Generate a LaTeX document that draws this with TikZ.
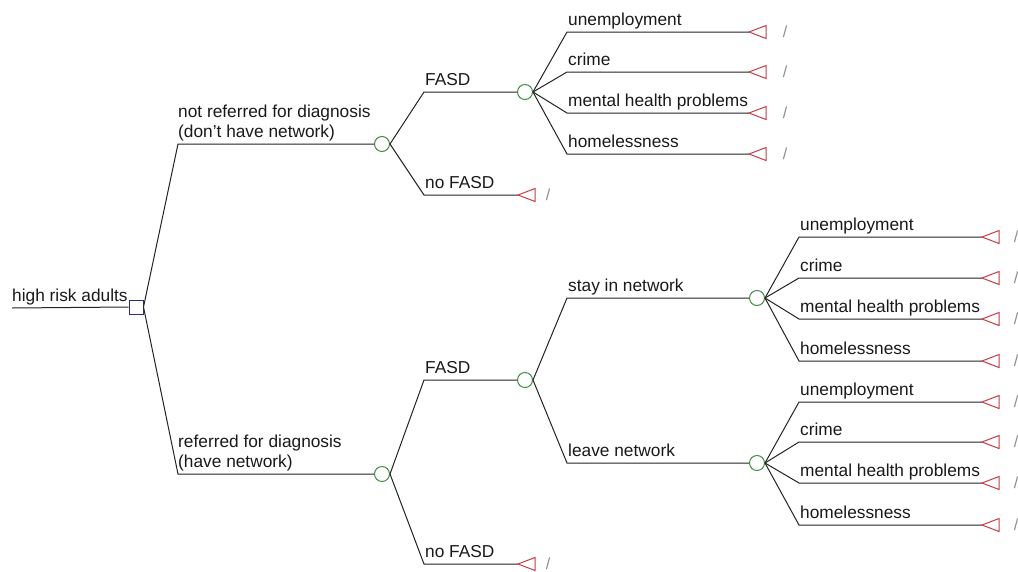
\documentclass[tikz,border=0pt]{standalone}
\usepackage{fontspec}
\setmainfont{Liberation Sans}
\definecolor{linec}{RGB}{35,35,35}
\definecolor{textc}{RGB}{25,25,25}
\definecolor{chancec}{RGB}{70,140,70}
\definecolor{decc}{RGB}{45,45,135}
\definecolor{termc}{RGB}{200,60,70}
\definecolor{slashc}{RGB}{140,140,140}
\begin{document}
\begin{tikzpicture}[x=1pt,y=-1pt,
  edge/.style={draw=linec, line width=1pt},
  chance/.style={circle, draw=chancec, line width=1pt, minimum size=15pt, inner sep=0pt, fill=white},
  decision/.style={rectangle, draw=decc, line width=1pt, minimum size=14pt, inner sep=0pt, fill=white},
  lbl/.style={anchor=base west, inner sep=0pt, font=\fontsize{17.3}{20}\selectfont, text=textc},
  lbltwo/.style={anchor=south west, inner sep=0pt, align=left, font=\fontsize{17.3}{20}\selectfont, text=textc},
  term/.style={draw=termc, line width=1pt, line join=miter},
  slashmark/.style={inner sep=0pt, text=slashc, font=\fontsize{16}{18}\selectfont}]
\useasboundingbox (0,0) rectangle (1018,571);

% root
\coordinate (r0) at (12,308);
\node[decision] (sq) at (136,307) {};
\draw[edge] (r0) -- (sq.west);
\node[lbl] (lroot) at (12,301) {high risk adults};

% level 1
\coordinate (k1) at (178,144);
\coordinate (k2) at (178,474);
\node[chance] (c1) at (382,144) {};
\node[chance] (c2) at (382,474) {};
\draw[edge] (sq.east) -- (k1) -- (c1.west);
\draw[edge] (sq.east) -- (k2) -- (c2.west);
\node[lbltwo] (l1) at (178,141) {not referred for diagnosis\\(don't have network)};
\node[lbltwo] (l2) at (178,471) {referred for diagnosis\\(have network)};

% level 2 upper
\coordinate (k3) at (424,92);
\coordinate (k4) at (424,195);
\node[chance] (c3) at (525,92) {};
\coordinate (t4) at (518,195);
\draw[edge] (c1.east) -- (k3) -- (c3.west);
\draw[edge] (c1.east) -- (k4) -- (t4);
\draw[term] (t4) -- ++(17,-6.5) -- ++(0,13) -- cycle;
\node[slashmark] (s4) at (548,195) {/};
\node[lbl] (l3) at (425,85.5) {FASD};
\node[lbl] (l4) at (425,188.5) {no FASD};

% level 2 lower
\coordinate (k5) at (424,380);
\coordinate (k6) at (424,564);
\node[chance] (c4) at (525,380) {};
\coordinate (t6) at (518,564);
\draw[edge] (c2.east) -- (k5) -- (c4.west);
\draw[edge] (c2.east) -- (k6) -- (t6);
\draw[term] (t6) -- ++(17,-6.5) -- ++(0,13) -- cycle;
\node[slashmark] (s6) at (548,564) {/};
\node[lbl] (l5) at (425,373.5) {FASD};
\node[lbl] (l6) at (425,557.5) {no FASD};

% level 3 lower (network)
\coordinate (k7) at (567,298);
\coordinate (k8) at (567,463);
\node[chance] (c5) at (757,298) {};
\node[chance] (c6) at (757,463) {};
\draw[edge] (c4.east) -- (k7) -- (c5.west);
\draw[edge] (c4.east) -- (k8) -- (c6.west);
\node[lbl] (l7) at (568,291.5) {stay in network};
\node[lbl] (l8) at (568,456.5) {leave network};

% outcomes after upper FASD
\foreach \n/\yy/\lab in {1/32/unemployment, 2/72/crime, 3/113/mental health problems, 4/154/homelessness} {
  \coordinate (a\n) at (567,\yy);
  \coordinate (ta\n) at (749,\yy);
  \draw[edge] (c3.east) -- (a\n) -- (ta\n);
  \draw[term] (ta\n) -- ++(17,-6.5) -- ++(0,13) -- cycle;
  \node[lbl] (la\n) at (568,\yy-7) {\lab};
  \node[slashmark] (sa\n) at (785,\yy) {/};
}

% outcomes after stay in network
\foreach \n/\yy/\lab in {1/237/unemployment, 2/278/crime, 3/319/mental health problems, 4/361/homelessness} {
  \coordinate (b\n) at (799,\yy);
  \coordinate (tb\n) at (982,\yy);
  \draw[edge] (c5.east) -- (b\n) -- (tb\n);
  \draw[term] (tb\n) -- ++(17,-6.5) -- ++(0,13) -- cycle;
  \node[lbl] (lb\n) at (800,\yy-7) {\lab};
  \node[slashmark] (sb\n) at (1016,\yy) {/};
}

% outcomes after leave network
\foreach \n/\yy/\lab in {1/402/unemployment, 2/442/crime, 3/483/mental health problems, 4/525/homelessness} {
  \coordinate (d\n) at (799,\yy);
  \coordinate (td\n) at (982,\yy);
  \draw[edge] (c6.east) -- (d\n) -- (td\n);
  \draw[term] (td\n) -- ++(17,-6.5) -- ++(0,13) -- cycle;
  \node[lbl] (ld\n) at (800,\yy-7) {\lab};
  \node[slashmark] (sd\n) at (1016,\yy) {/};
}
\end{tikzpicture}
\end{document}
